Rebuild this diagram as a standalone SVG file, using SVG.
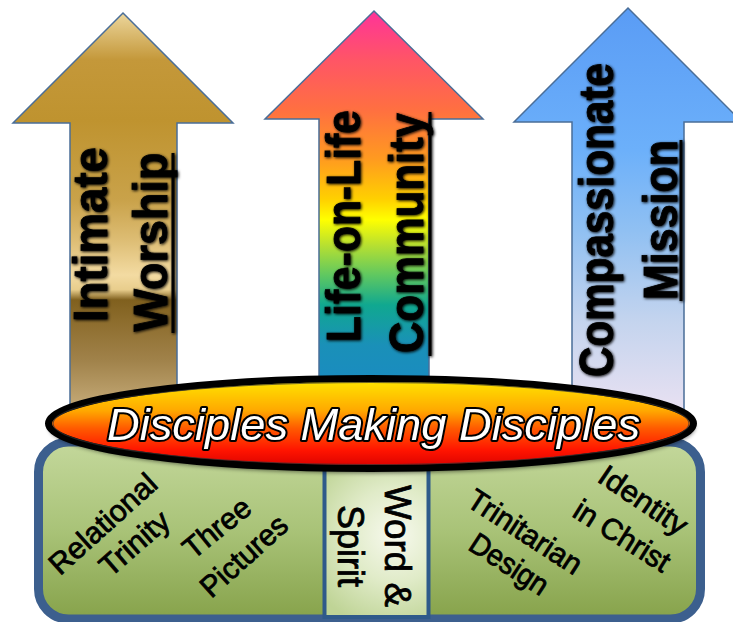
<svg xmlns="http://www.w3.org/2000/svg" width="733" height="622" viewBox="0 0 733 622">
  <defs>
    <linearGradient id="gGold" gradientUnits="userSpaceOnUse" x1="0" y1="13" x2="0" y2="420">
      <stop offset="0" stop-color="#ecd69c"/>
      <stop offset="0.115" stop-color="#c4983a"/>
      <stop offset="0.263" stop-color="#bf932f"/>
      <stop offset="0.46" stop-color="#c9a24a"/>
      <stop offset="0.558" stop-color="#ddbd74"/>
      <stop offset="0.644" stop-color="#f3dba2"/>
      <stop offset="0.68" stop-color="#e8cd8c"/>
      <stop offset="0.705" stop-color="#80601e"/>
      <stop offset="0.754" stop-color="#8c6c2c"/>
      <stop offset="0.853" stop-color="#a0824a"/>
      <stop offset="1" stop-color="#cfb584"/>
    </linearGradient>
    <linearGradient id="gRainbow" gradientUnits="userSpaceOnUse" x1="0" y1="11" x2="0" y2="380">
      <stop offset="0" stop-color="#ff3399"/>
      <stop offset="0.133" stop-color="#ff5566"/>
      <stop offset="0.27" stop-color="#ff7040"/>
      <stop offset="0.40" stop-color="#ff9a20"/>
      <stop offset="0.51" stop-color="#ffd000"/>
      <stop offset="0.566" stop-color="#ffff00"/>
      <stop offset="0.634" stop-color="#b8e030"/>
      <stop offset="0.715" stop-color="#60c860"/>
      <stop offset="0.797" stop-color="#10a890"/>
      <stop offset="0.905" stop-color="#1a90b8"/>
      <stop offset="1" stop-color="#1a8cc0"/>
    </linearGradient>
    <linearGradient id="gBlue" gradientUnits="userSpaceOnUse" x1="0" y1="8" x2="0" y2="420">
      <stop offset="0" stop-color="#5a9cf5"/>
      <stop offset="0.345" stop-color="#6cb0fa"/>
      <stop offset="0.54" stop-color="#90c0f2"/>
      <stop offset="0.76" stop-color="#c4d4ee"/>
      <stop offset="1" stop-color="#ece2f2"/>
    </linearGradient>
    <linearGradient id="gFire" gradientUnits="userSpaceOnUse" x1="0" y1="380" x2="0" y2="468">
      <stop offset="0" stop-color="#ffe600"/>
      <stop offset="0.35" stop-color="#ffa800"/>
      <stop offset="0.55" stop-color="#ff5a00"/>
      <stop offset="0.8" stop-color="#ff1400"/>
      <stop offset="1" stop-color="#d80000"/>
    </linearGradient>
    <linearGradient id="gGreen" gradientUnits="userSpaceOnUse" x1="0" y1="440" x2="0" y2="620">
      <stop offset="0" stop-color="#c4d89c"/>
      <stop offset="0.5" stop-color="#a9c378"/>
      <stop offset="1" stop-color="#86a24a"/>
    </linearGradient>
    <radialGradient id="gPanel" gradientUnits="userSpaceOnUse" cx="395" cy="535" r="95">
      <stop offset="0" stop-color="#f7f9ee"/>
      <stop offset="0.5" stop-color="#e0ebc8"/>
      <stop offset="1" stop-color="#bfd496"/>
    </radialGradient>
    <filter id="glow" x="-10%" y="-10%" width="120%" height="120%">
      <feGaussianBlur in="SourceAlpha" stdDeviation="1.4" result="b"/>
      <feOffset dx="1" dy="1" in="b" result="o"/>
      <feMerge><feMergeNode in="o"/><feMergeNode in="SourceGraphic"/></feMerge>
    </filter>
    <filter id="soft" x="-5%" y="-20%" width="110%" height="140%">
      <feGaussianBlur stdDeviation="2"/>
    </filter>
  </defs>
  <style>
    .arrow { stroke: #4a6e98; stroke-width: 1.5; stroke-linejoin: miter; }
    .atext { font-family: "Liberation Sans", Arial, sans-serif; font-weight: bold; font-size: 48px; fill: #000; stroke: #000; stroke-width: 0.8; text-anchor: middle; }
    .uline { stroke: #000; stroke-width: 3; }
    .btext { font-family: "Liberation Sans", Arial, sans-serif; font-size: 30px; fill: #000; stroke: #000; stroke-width: 0.8; text-anchor: middle; }
    .mtext { font-family: "Liberation Sans", Arial, sans-serif; font-size: 37px; fill: #000; stroke: #000; stroke-width: 0.8; text-anchor: middle; }
    .dtext { font-family: "Liberation Sans", Arial, sans-serif; font-style: italic; font-size: 44px; fill: #fff; stroke: #000; stroke-width: 4; paint-order: stroke; stroke-linejoin: round; text-anchor: middle; }
  </style>

  <g id="arrow-worship">
    <path class="arrow" fill="url(#gGold)" d="M123,13 L233,123 L177,123 L177,420 L70,420 L70,123 L13,123 Z"/>
    <g filter="url(#glow)">
      <text class="atext" transform="translate(107,234.5) rotate(-90)" textLength="175" lengthAdjust="spacingAndGlyphs">Intimate</text>
      <text class="atext" transform="translate(167,242) rotate(-90)" textLength="179" lengthAdjust="spacingAndGlyphs">Worship</text>
      <line class="uline" x1="173" y1="153" x2="173" y2="333"/>
    </g>
  </g>

  <g id="arrow-community">
    <path class="arrow" fill="url(#gRainbow)" d="M374,11 L483,119 L429,119 L429,400 L319,400 L319,119 L265,119 Z"/>
    <g filter="url(#glow)">
      <text class="atext" transform="translate(360,226) rotate(-90)" textLength="232" lengthAdjust="spacingAndGlyphs">Life-on-Life</text>
      <text class="atext" transform="translate(423,233) rotate(-90)" textLength="240" lengthAdjust="spacingAndGlyphs">Community</text>
      <line class="uline" x1="430" y1="112" x2="430" y2="356"/>
    </g>
  </g>

  <g id="arrow-mission">
    <path class="arrow" fill="url(#gBlue)" d="M628,8 L742,122 L684,122 L684,420 L572,420 L572,122 L514,122 Z"/>
    <g filter="url(#glow)">
      <text class="atext" transform="translate(613,220) rotate(-90)" textLength="314" lengthAdjust="spacingAndGlyphs">Compassionate</text>
      <text class="atext" transform="translate(677,220) rotate(-90)" textLength="160" lengthAdjust="spacingAndGlyphs">Mission</text>
      <line class="uline" x1="681" y1="140" x2="681" y2="301"/>
    </g>
  </g>

  <g id="foundation">
    <rect x="38.5" y="442" width="662" height="177" rx="30" ry="30" fill="url(#gGreen)" stroke="#3c5f8e" stroke-width="9"/>
    <rect x="324.5" y="455" width="104" height="162" fill="url(#gPanel)" stroke="#2e5a8a" stroke-width="4"/>
  </g>

  <g id="relational-trinity">
    <text class="btext" transform="translate(103,524) rotate(-42)" y="10" textLength="134" lengthAdjust="spacingAndGlyphs">Relational</text>
    <text class="btext" transform="translate(136,545) rotate(-41)" y="8" textLength="82" lengthAdjust="spacingAndGlyphs">Trinity</text>
  </g>

  <g id="three-pictures">
    <text class="btext" transform="translate(217,528) rotate(-39)" y="10" textLength="78" lengthAdjust="spacingAndGlyphs">Three</text>
    <text class="btext" transform="translate(244,556) rotate(-42)" y="10" textLength="106" lengthAdjust="spacingAndGlyphs">Pictures</text>
  </g>

  <g id="word-spirit">
    <text class="mtext" transform="translate(385,546) rotate(90)" textLength="122" lengthAdjust="spacingAndGlyphs">Word &amp;</text>
    <text class="mtext" transform="translate(338,546) rotate(90)" textLength="82" lengthAdjust="spacingAndGlyphs">Spirit</text>
  </g>

  <g id="trinitarian-design">
    <text class="btext" transform="translate(525,532) rotate(33)" y="10" textLength="130" lengthAdjust="spacingAndGlyphs">Trinitarian</text>
    <text class="btext" transform="translate(508,566) rotate(33)" y="8" textLength="88" lengthAdjust="spacingAndGlyphs">Design</text>
  </g>

  <g id="identity-in-christ">
    <text class="btext" transform="translate(642,502) rotate(34)" y="8" textLength="100" lengthAdjust="spacingAndGlyphs">Identity</text>
    <text class="btext" transform="translate(622,536) rotate(32)" y="10" textLength="108" lengthAdjust="spacingAndGlyphs">in Christ</text>
  </g>

  <g id="disciples-making-disciples">
    <ellipse cx="372" cy="427" rx="323" ry="46" fill="#000" opacity="0.55" filter="url(#soft)"/>
    <ellipse cx="371" cy="423.5" rx="322.5" ry="45" fill="url(#gFire)" stroke="#000" stroke-width="7"/>
    <ellipse cx="371" cy="423.5" rx="318" ry="41" fill="none" stroke="#333" stroke-width="1.2" opacity="0.7"/>
    <text class="dtext" x="373.5" y="440" textLength="533" lengthAdjust="spacingAndGlyphs">Disciples Making Disciples</text>
  </g>
</svg>
